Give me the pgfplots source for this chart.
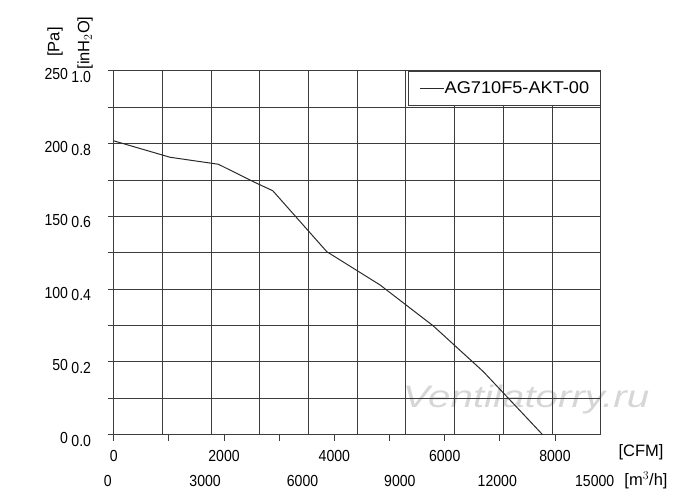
\documentclass[border=0pt]{standalone}
\usepackage{fontspec}
\setmainfont{Liberation Sans}
\newfontfamily\tickfam[FakeStretch=0.88]{Liberation Sans}
\newfontfamily\legfam[FakeStretch=1.07]{Liberation Sans}
\newfontfamily\wmfam[FakeStretch=1.3]{Liberation Sans}
\usepackage{pgfplots}
\pgfplotsset{compat=1.18}
\definecolor{gridc}{HTML}{3C3C3C}
\definecolor{curvec}{HTML}{2A2A2A}
\newcommand{\tf}{\tickfam\fontsize{16bp}{19bp}\selectfont}
\newcommand{\lf}{\fontsize{16.5bp}{19bp}\selectfont}
\newcommand{\yl}[2]{\makebox[26bp][r]{#1}\hspace{5bp}\raisebox{-2.5bp}{\makebox[18bp][r]{#2}}}
\pgfplotstableread{
mh   pa
0     202.0
1735  190.7
3223  185.9
4301  173.9
4899  167.7
6563  125.8
8205  102.9
9847  74.7
11387 43.3
13210 0.0
}\curvedata
\begin{document}
\begin{tikzpicture}[x=1bp,y=1bp]
\useasboundingbox (0,0) rectangle (700,503);
\node[font=\wmfam\itshape\fontsize{31bp}{34bp}\selectfont, text=black!16, inner sep=0pt] at (526,104) {Ventilatorry.ru};
\begin{axis}[
  at={(113.7bp,68.3bp)}, anchor=south west,
  scale only axis, width=487bp, height=363.7bp,
  xmin=0, xmax=15000, ymin=0, ymax=250,
  axis line style={draw=gridc, line width=1bp},
  grid=major,
  major grid style={draw=gridc, line width=1bp},
  xtick={0,1500,3000,4500,6000,7500,9000,10500,12000,13500,15000},
  xticklabels={0,,3000,,6000,,9000,,12000,,15000},
  xtick style={draw=none},
  xtick pos=bottom,
  ytick={0,25,50,75,100,125,150,175,200,225,250},
  yticklabels={\yl{0}{0.0},,\yl{50}{0.2},,\yl{100}{0.4},,\yl{150}{0.6},,\yl{200}{0.8},,\yl{250}{1.0}},
  ytick pos=left,
  ytick style={draw=gridc, line width=1bp},
  tick align=outside,
  major tick length=6bp,
  scaled x ticks=false,
  xticklabel style={font=\tf, anchor=north, inner sep=0pt, yshift=-34bp, xshift=-6bp},
  yticklabel style={font=\tf, anchor=base east, inner sep=0pt, yshift=-8.9bp, xshift=-16.5bp},
  extra x ticks={0,1699.01,3398.02,5097.03,6796.04,8495.05,10194.06,11893.07,13592.08},
  extra x tick labels={0,,2000,,4000,,6000,,8000},
  extra x tick style={grid=none, xtick style={draw=gridc, line width=1bp},
    xticklabel style={yshift=25bp, xshift=6bp}},
  legend style={at={(1,1)}, anchor=north east, draw=gridc, line width=1bp, fill=white,
    font=\legfam\fontsize{17bp}{20bp}\selectfont, inner xsep=11bp, inner ysep=10.5bp,
    nodes={inner sep=0pt}, /tikz/every even column/.append style={column sep=3.3bp}},
  legend image code/.code={\draw[curvec, line width=1bp] (0bp,0bp) -- (24bp,0bp);},
]
\addplot[curvec, line width=1bp] table[x=mh, y=pa] {\curvedata};
\addlegendentry{AG710F5-AKT-00}
\end{axis}
\node[font=\lf] at (641,51) {[CFM]};
\node[font=\lf] at (646,23) {[m$^3$/h]};
\node[font=\lf, rotate=90] at (55,461) {[Pa]};
\node[font=\lf, rotate=90] at (85,460) {[inH$_2$O]};
\end{tikzpicture}
\end{document}
